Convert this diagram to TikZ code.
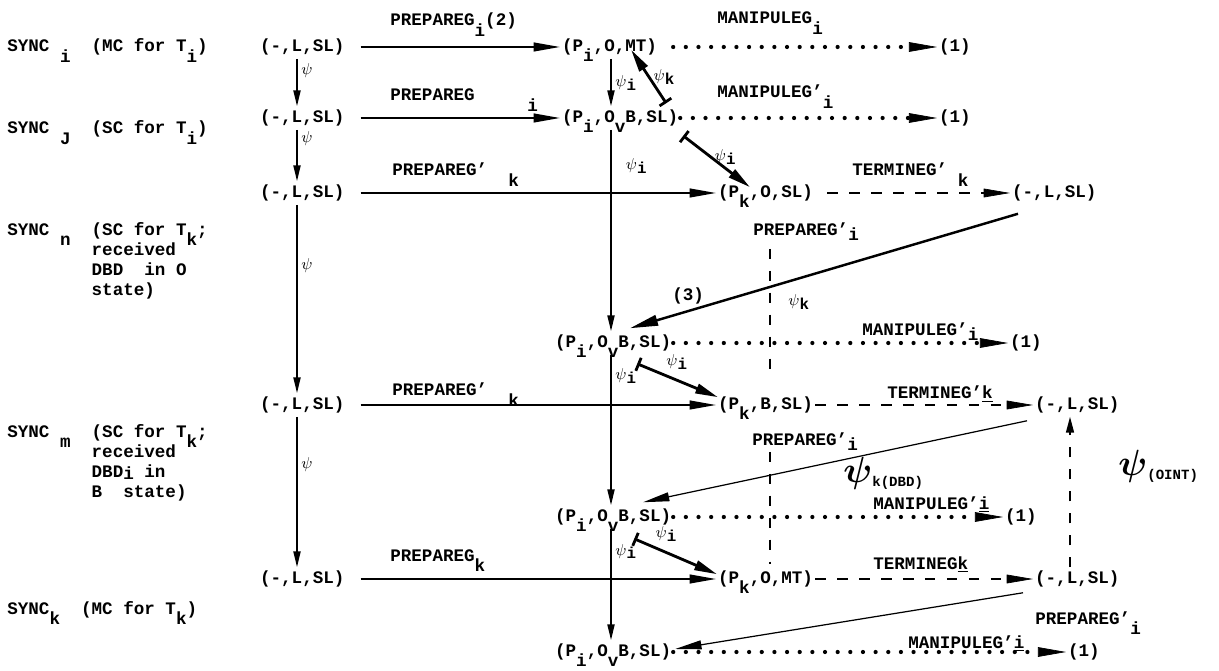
\documentclass[tikz,border=0pt]{standalone}
\usepackage{fontspec}
\usepackage{bm}
\setmainfont{Liberation Mono}
\usetikzlibrary{arrows.meta,calc}
\newcommand\dn[1]{\smash{\raisebox{-1.1ex}{#1}}}
\newcommand\lo[1]{\smash{\raisebox{-.45ex}{#1}}}
\newcommand\psisub[1]{$\psi$\lo{#1}}
\newcommand\bigpsi{{\fontsize{20}{20}\selectfont$\bm{\psi}$}}

\begin{document}
\begin{tikzpicture}[x=0.02cm,y=-0.02cm,
  every node/.style={font=\fontsize{10}{11.4}\selectfont\bfseries},
  st/.style={inner sep=1pt,text height=8pt,text depth=3pt,anchor=west},
  lb/.style={inner sep=0pt,anchor=base west},
  psl/.style={font=\fontsize{9}{9}\selectfont\bfseries,inner sep=2pt},
  tr/.style={line width=1pt,shorten <=8pt,-{Triangle[length=15pt,width=5pt]}},
  vt/.style={line width=1pt,-{Triangle[length=9pt,width=4pt]}},
  dots/.style={line width=2.4pt,line cap=round,dash pattern=on 0pt off 7.2pt,-{Triangle[length=16pt,width=5.5pt,line width=.4pt]}},
  dsh/.style={line width=1.1pt,dash pattern=on 6pt off 6.5pt,-{Triangle[length=15pt,width=5pt,line width=.4pt]}},
  vdsh/.style={line width=.9pt,dash pattern=on 6pt off 6.5pt},
  bararr/.style={line width=1.6pt,{Bar[width=8pt]}-{Triangle[length=13pt,width=5.5pt]}},
  diag/.style={line width=1.4pt,-{Triangle[length=16pt,width=6pt]}},
  thin/.style={line width=.7pt,-{Triangle[length=15pt,width=5pt]}}]

\useasboundingbox (0,0) rectangle (1219,671);

\coordinate (lx) at (297,0);
\coordinate (cx) at (611,0);
\coordinate (kx) at (770,0);
\coordinate (rx) at (1070,0);

\node[lb] (sy1) at (7,52) {SYNC~\dn{i}~~(MC for T\dn{i})};
\node[lb] (sy2) at (7,134) {SYNC~\dn{J}~~(SC for T\dn{i})};
\node[inner sep=0pt,anchor=north west,align=left] (sy3) at (7,222)
  {SYNC~\dn{n}~~(SC for T\dn{k};\\\hspace*{4.8em}received\\\hspace*{4.8em}DBD~~in O\\\hspace*{4.8em}state)};
\node[inner sep=0pt,anchor=north west,align=left] (sy4) at (7,424)
  {SYNC~\dn{m}~~(SC for T\dn{k};\\\hspace*{4.8em}received\\\hspace*{4.8em}DBD\smash{\raisebox{-.25ex}{i}}~in\\\hspace*{4.8em}B~~state)};
\node[lb] (sy5) at (7,614) {SYNC\dn{k}~~(MC for T\dn{k})};

\node[st] (l1) at (258,47) {(-,L,SL)};
\node[st] (l2) at (258,118) {(-,L,SL)};
\node[st] (l3) at (258,193) {(-,L,SL)};
\node[st] (l5) at (258,405) {(-,L,SL)};
\node[st] (l7) at (258,579) {(-,L,SL)};

\node[st] (c1) at (560,47) {(P\dn{i},O,MT)};
\node[st] (c2) at (560,118) {(P\dn{i},O\dn{v}B,SL)};
\node[st] (c4) at (553,343) {(P\dn{i},O\dn{v}B,SL)};
\node[st] (c6) at (553,517) {(P\dn{i},O\dn{v}B,SL)};
\node[st] (c8) at (553,652) {(P\dn{i},O\dn{v}B,SL)};

\node[st] (k3) at (716,193) {(P\dn{k},O,SL)};
\node[st] (k5) at (716,405) {(P\dn{k},B,SL)};
\node[st] (k7) at (716,579) {(P\dn{k},O,MT)};

\node[st] (r3) at (1010,193) {(-,L,SL)};
\node[st] (r5) at (1033,405) {(-,L,SL)};
\node[st] (r7) at (1033,579) {(-,L,SL)};

\node[st] (o1) at (937,47) {(1)};
\node[st] (o2) at (937,118) {(1)};
\node[st] (o4) at (1008,343) {(1)};
\node[st] (o6) at (1003,517) {(1)};
\node[st] (o8) at (1066,652) {(1)};

\node[lb] (lb1) at (390,26) {PREPAREG\dn{i}(2)};
\node[lb] (lb2) at (390,101) {PREPAREG~~~~~\dn{i}};
\node[lb] (lb3) at (392,176) {PREPAREG'~~\dn{k}};
\node[lb] (lb3t) at (852,176) {TERMINEG'~\dn{k}};
\node[lb] (lm1) at (717,24) {MANIPULEG\dn{i}};
\node[lb] (lm2) at (717,98) {MANIPULEG'\dn{i}};
\node[lb] (lb4) at (753,236) {PREPAREG'\lo{i}};
\node[lb] (n3) at (672,301) {(3)};
\node[lb,psl,inner sep=0pt] (pk4) at (788,306) {\psisub{k}};
\node[lb] (lm4) at (862,336) {MANIPULEG'\lo{i}};
\node[lb] (lb5) at (392,396) {PREPAREG'~~\dn{k}};
\node[lb] (lb5t) at (887,399) {TERMINEG'\underline{k}};
\node[lb] (lb6) at (752,446) {PREPAREG'\lo{i}};
\node[anchor=west,inner sep=0pt] (pk6) at (843,473) {\bigpsi\lo{\fontsize{8}{8}\selectfont\bfseries k(DBD)}};
\node[anchor=west,inner sep=0pt] (poi) at (1118,466) {\bigpsi\lo{\fontsize{8}{8}\selectfont\bfseries(OINT)}};
\node[lb] (lm6) at (873,509) {MANIPULEG'\underline{i}};
\node[lb] (lb7) at (390,561) {PREPAREG\dn{k}};
\node[lb] (lb7t) at (873,569) {TERMINEG\underline{k}};
\node[lb] (lb8) at (1035,624) {PREPAREG'\dn{i}};
\node[lb] (lm8) at (908,648) {MANIPULEG'\underline{i}};

\draw[vt] (l1.south -| lx) -- node[psl,right,pos=.25]{$\psi$} (l2.north -| lx);
\draw[vt] (l2.south -| lx) -- node[psl,right,pos=.17]{$\psi$} (l3.north -| lx);
\draw[vt] (l3.south -| lx) -- node[psl,right,pos=.32]{$\psi$} (l5.north -| lx);
\draw[vt] (l5.south -| lx) -- node[psl,right,pos=.32]{$\psi$} (l7.north -| lx);

\draw[vt] (c1.south -| cx) -- node[psl,right,pos=.5]{\psisub{i}} (c2.north -| cx);
\draw[vt] (c2.south -| cx) -- node[psl,right=6pt,pos=.18]{\psisub{i}} (c4.north -| cx);
\draw[vt] (c4.south -| cx) -- node[psl,right,pos=.14]{\psisub{i}} (c6.north -| cx);
\draw[vt] (c6.south -| cx) -- node[psl,right,pos=.2]{\psisub{i}} (c8.north -| cx);

\draw[tr] (l1.east) -- (c1.west);
\draw[tr] (l2.east) -- (c2.west);
\draw[tr] (l3.east) -- (k3.west);
\draw[tr] (l5.east) -- (k5.west);
\draw[tr] (l7.east) -- (k7.west);

\draw[dots,shorten <=8pt] (c1.east) -- (o1.west);
\draw[dots] (c2.east) -- (o2.west);
\draw[dots] (c4.east) -- (o4.west);
\draw[dots] (c6.east) -- (o6.west);
\draw[dots] (c8.east) -- (o8.west);

\draw[dsh,shorten <=7pt] (k3.east) -- (r3.west);
\draw[dsh] (k5.east) -- (r5.west);
\draw[dsh] (k7.east) -- (r7.west);

\draw[vdsh,shorten <=7pt,shorten >=9pt] (lb4.south -| kx) -- (k5.north -| kx);
\draw[vdsh,shorten <=3pt,shorten >=2pt] (lb6.south -| kx) -- (k7.north -| kx);
\draw[vdsh,-{Triangle[length=9pt,width=4.5pt]}] (r7.north -| rx) -- (r5.south -| rx);

\draw[bararr] ($(c2.north east)+(-14,-3)$) -- node[psl,right,pos=.5]{\psisub{k}} ($(c1.south east)+(-28,-9)$);
\draw[bararr] ($(c2.south east)+(3,6)$) -- node[psl,right,pos=.4]{\psisub{i}} ($(k3.north west)+(34,6)$);
\draw[bararr] ($(c4.south east)+(-36,9)$) -- node[psl,above right,pos=.3]{\psisub{i}} ($(k5.north west)+(2,4)$);
\draw[bararr] ($(c6.south east)+(-39,10)$) -- node[psl,above right,pos=.2]{\psisub{i}} ($(k7.north west)+(1,7)$);

\draw[diag] ($(r3.south west)+(8,9)$) -- ($(c4.north west)+(77,-3)$);
\draw[thin] ($(r5.south west)+(-6,4)$) -- ($(c6.north west)+(90,-3)$);
\draw[thin] ($(r7.south west)+(-10,2)$) -- ($(c8.east)+(2,-3)$);

\end{tikzpicture}
\end{document}
